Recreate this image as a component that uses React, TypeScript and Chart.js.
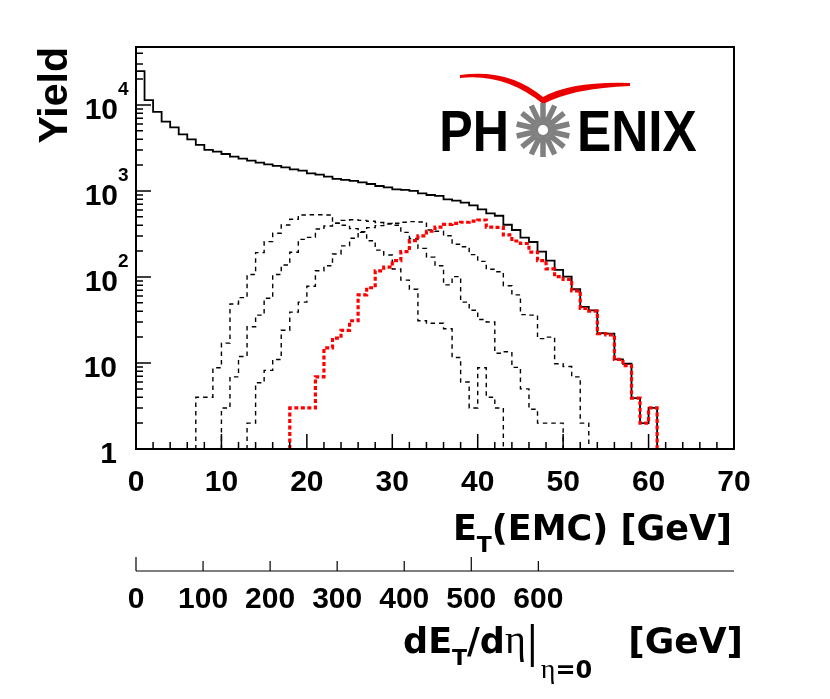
import { useEffect, useRef } from 'react'
import { Chart, registerables } from 'chart.js'

Chart.register(...registerables)

const FONT = '"Liberation Sans", Arial, Helvetica, sans-serif'
const TITLE_FONT = '"DejaVu Sans", "Liberation Sans", sans-serif'
const GREEK_FONT = '"Liberation Serif", "DejaVu Serif", serif'

// histogram contents, one value per 1 GeV bin, starting at *_START
const TOTAL_START = 0
const TOTAL = [
  24800, 11400, 8300, 6400, 5500, 4560, 3990, 3430, 3000, 2870,
  2690, 2510, 2375, 2250, 2135, 2040, 1953, 1885, 1786, 1720,
  1605, 1548, 1467, 1380, 1343, 1307, 1262, 1206, 1143, 1103,
  1045, 1028, 1000, 940, 898, 875, 800, 771, 731, 680,
  610, 550, 515, 405, 352, 287, 255, 197, 155, 121,
  101, 72, 45, 41, 22.3, 21.9, 11, 9.8, 3.9, 2, 3,
]

const CLASS_A_START = 7
const CLASS_A = [
  4, 4, 8.8, 17, 48.5, 57.5, 107, 192, 258, 322,
  402, 469, 526, 530, 530, 526, 421, 400, 365, 330,
  264, 205, 180, 124, 92, 72, 31, 29, 29, 25,
  11.6, 6, 3, 8.8, 4, 3,
]

const CLASS_B_START = 10
const CLASS_B = [
  3, 6.9, 11.9, 26.4, 36, 56.5, 107, 138, 194, 274,
  289, 361, 392, 421, 455, 462, 455, 445, 430, 420,
  400, 330, 280, 215, 170, 135, 81, 101, 51, 41,
  32, 30, 13, 13.5, 8.9, 5, 2.9, 2, 2, 2,
]

const CLASS_C_START = 13
const CLASS_C = [
  2, 5.9, 8.2, 11, 24, 39, 51, 78, 118, 135,
  185, 230, 282, 335, 375, 395, 413, 421, 433, 440,
  435, 352, 340, 302, 240, 225, 182, 152, 123, 115,
  79, 62, 36.5, 36, 19.2, 20, 9.8, 9.1, 6.9, 2,
]

const CENTRAL_START = 18
const CENTRAL = [
  3, 3, 3, 6.9, 15, 19.5, 24, 31, 62, 75,
  118, 130, 155, 197, 265, 300, 340, 380, 410, 421,
  433, 445, 460, 380, 378, 308, 262, 245, 195, 155,
  124, 101, 94, 69, 43, 40, 22, 21.2, 11, 9.3,
  3.9, 2, 3,
]

const X_TICK_LABELS = [0, 10, 20, 30, 40, 50, 60, 70]
const Y_TICK_VALUES = [1, 10, 100, 1000, 10000]
const SEC_TICK_LABELS = [0, 100, 200, 300, 400, 500, 600]
const SEC_PER_GEV = 12.74 // dEt/deta per GeV of Et(EMC)

const X_MAX = 70
const Y_MAX = 47200
const FLOOR = 0.5 // below the log axis minimum, so the edges drop out of the frame

// stepped 'after': each point's value is drawn over the bin that ends at its x
function stepPoints(start: number, values: number[]) {
  const pts = [{ x: start, y: FLOOR }]
  values.forEach((v, i) => pts.push({ x: start + i + 1, y: v }))
  pts.push({ x: start + values.length + 1, y: FLOOR })
  return pts
}

type Part = { t?: string; font?: string; dy?: number; gap?: number; bar?: boolean }

function partWidth(ctx: CanvasRenderingContext2D, p: Part) {
  if (p.gap) return p.gap
  if (p.bar) return 3
  ctx.font = p.font || ''
  return ctx.measureText(p.t || '').width
}

function drawRich(ctx: CanvasRenderingContext2D, parts: Part[], right: number, baseline: number) {
  let total = 0
  for (const p of parts) total += partWidth(ctx, p)
  let x = right - total
  ctx.textAlign = 'left'
  ctx.textBaseline = 'alphabetic'
  for (const p of parts) {
    const w = partWidth(ctx, p)
    if (p.bar) {
      ctx.fillRect(x, baseline - 29, 3, 43)
    } else if (p.t) {
      ctx.font = p.font || ''
      ctx.fillText(p.t, x, baseline + (p.dy || 0))
    }
    x += w
  }
}

const rootAxes = {
  id: 'rootAxes',
  afterDraw(chart: any) {
    const { ctx, chartArea: a } = chart
    const xs = chart.scales.x
    const ys = chart.scales.y
    const x2 = chart.scales.x2
    ctx.save()
    ctx.strokeStyle = '#000'
    ctx.fillStyle = '#000'

    // frame
    ctx.lineWidth = 2
    ctx.strokeRect(a.left, a.top, a.right - a.left, a.bottom - a.top)

    // inward ticks
    ctx.lineWidth = 1.5
    ctx.beginPath()
    for (let v = 0; v <= X_MAX; v += 2) {
      const px = xs.getPixelForValue(v)
      const len = v % 10 === 0 ? 15 : 7
      ctx.moveTo(px, a.bottom)
      ctx.lineTo(px, a.bottom - len)
    }
    for (let d = 1; d <= 10000; d *= 10) {
      for (let m = 1; m <= 9; m++) {
        const v = d * m
        if (v > Y_MAX) break
        const py = ys.getPixelForValue(v)
        const len = m === 1 ? 15 : 7
        ctx.moveTo(a.left, py)
        ctx.lineTo(a.left + len, py)
      }
    }
    ctx.stroke()

    // x labels
    ctx.font = `bold 30px ${FONT}`
    ctx.textAlign = 'center'
    ctx.textBaseline = 'alphabetic'
    X_TICK_LABELS.forEach((v) => {
      ctx.fillText(String(v), xs.getPixelForValue(v), a.bottom + 42)
    })

    // y labels
    Y_TICK_VALUES.forEach((v) => {
      const py = ys.getPixelForValue(v)
      const exp = Math.round(Math.log10(v))
      ctx.font = `bold 30px ${FONT}`
      ctx.textAlign = 'right'
      if (exp <= 1) {
        ctx.fillText(String(v), 117, py + 14)
      } else {
        ctx.fillText('10', 118, py + 14)
        ctx.font = `bold 19px ${FONT}`
        ctx.textAlign = 'left'
        ctx.fillText(String(exp), 118, py - 10)
      }
    })

    // y title
    ctx.save()
    ctx.translate(67, a.top)
    ctx.rotate(-Math.PI / 2)
    ctx.font = `bold 41px ${FONT}`
    ctx.textAlign = 'right'
    ctx.fillText('Yield', 0, 0)
    ctx.restore()

    // x title
    const big = `bold 35px ${TITLE_FONT}`
    const sub = `bold 22px ${TITLE_FONT}`
    drawRich(ctx, [
      { t: 'E', font: big },
      { t: 'T', font: sub, dy: 12 },
      { t: '(EMC) [GeV]', font: big },
    ], 732, 540)

    // secondary dEt/deta axis
    const lineY = 571
    ctx.lineWidth = 1.2
    ctx.beginPath()
    ctx.moveTo(x2.getPixelForValue(0), lineY)
    ctx.lineTo(a.right, lineY)
    SEC_TICK_LABELS.forEach((v) => {
      const px = x2.getPixelForValue(v)
      const len = v % 500 === 0 ? 14 : 10
      ctx.moveTo(px, lineY)
      ctx.lineTo(px, lineY - len)
    })
    ctx.stroke()
    ctx.font = `bold 30px ${FONT}`
    ctx.textAlign = 'center'
    SEC_TICK_LABELS.forEach((v) => {
      ctx.fillText(String(v), x2.getPixelForValue(v), 608)
    })
    const big2 = `bold 35px ${TITLE_FONT}`
    drawRich(ctx, [
      { t: 'dE', font: big2 },
      { t: 'T', font: sub, dy: 12 },
      { t: '/d', font: big2 },
      { t: '\u03b7', font: `40px ${GREEK_FONT}` },
      { gap: 5 },
      { bar: true },
      { gap: 7 },
      { t: '\u03b7', font: `28px ${GREEK_FONT}`, dy: 25 },
      { t: '=0', font: `bold 24px ${TITLE_FONT}`, dy: 25 },
      { gap: 36 },
      { t: '[GeV]', font: `bold 36px ${TITLE_FONT}` },
    ], 743, 653)

    ctx.restore()
  },
}

const phenixLogo = {
  id: 'phenixLogo',
  afterDraw(chart: any) {
    const { ctx } = chart
    ctx.save()
    // red swoosh
    ctx.fillStyle = 'rgb(235,0,0)'
    ctx.beginPath()
    ctx.moveTo(460, 75)
    ctx.quadraticCurveTo(508, 68, 543, 97)
    ctx.quadraticCurveTo(572, 81, 630, 83)
    ctx.lineTo(630, 86)
    ctx.quadraticCurveTo(574, 88, 543, 104)
    ctx.quadraticCurveTo(505, 73, 460, 78)
    ctx.closePath()
    ctx.fill()

    // letters
    ctx.fillStyle = '#000'
    ctx.font = `bold 57px ${FONT}`
    ctx.textBaseline = 'alphabetic'
    ctx.save()
    ctx.translate(509, 151)
    ctx.scale(0.88, 1)
    ctx.textAlign = 'right'
    ctx.fillText('PH', 0, 0)
    ctx.restore()
    ctx.save()
    ctx.translate(577, 151)
    ctx.scale(0.9, 1)
    ctx.textAlign = 'left'
    ctx.fillText('ENIX', 0, 0)
    ctx.restore()

    // grey sunburst
    const cx = 543
    const cy = 130
    ctx.strokeStyle = 'rgb(128,128,128)'
    ctx.lineWidth = 5.5
    ctx.lineCap = 'butt'
    ctx.beginPath()
    for (let i = 0; i < 14; i++) {
      const ang = (i * Math.PI * 2) / 14 - Math.PI / 2
      ctx.moveTo(cx + Math.cos(ang) * 8, cy + Math.sin(ang) * 8)
      ctx.lineTo(cx + Math.cos(ang) * 27, cy + Math.sin(ang) * 27)
    }
    ctx.stroke()
    ctx.fillStyle = 'rgb(128,128,128)'
    ctx.beginPath()
    ctx.arc(cx, cy, 8.5, 0, Math.PI * 2)
    ctx.fill()
    ctx.fillStyle = '#fff'
    ctx.beginPath()
    ctx.arc(cx, cy, 5, 0, Math.PI * 2)
    ctx.fill()
    ctx.restore()
  },
}

export default function App() {
  const canvasRef = useRef<HTMLCanvasElement>(null)
  const chartRef = useRef<Chart | null>(null)

  useEffect(() => {
    if (!canvasRef.current) return
    if (chartRef.current) chartRef.current.destroy()
    const ctx = canvasRef.current.getContext('2d')
    if (!ctx) return

    const dashed = {
      borderColor: '#000',
      borderWidth: 1.4,
      borderDash: [4.5, 4],
      order: 2,
    }

    chartRef.current = new Chart(ctx, {
      type: 'line',
      data: {
        datasets: [
          {
            label: 'central',
            data: stepPoints(CENTRAL_START, CENTRAL),
            borderColor: 'rgb(255,0,0)',
            borderWidth: 3.2,
            borderDash: [4, 2.5],
            order: 0,
          },
          {
            label: 'all',
            data: stepPoints(TOTAL_START, TOTAL),
            borderColor: '#000',
            borderWidth: 1.8,
            order: 1,
          },
          { label: 'A', data: stepPoints(CLASS_A_START, CLASS_A), ...dashed },
          { label: 'B', data: stepPoints(CLASS_B_START, CLASS_B), ...dashed },
          { label: 'C', data: stepPoints(CLASS_C_START, CLASS_C), ...dashed },
        ] as any,
      },
      options: {
        animation: false,
        responsive: false,
        maintainAspectRatio: false,
        layout: { padding: { left: 136, top: 47, right: 96, bottom: 250 } },
        elements: {
          point: { radius: 0 },
          line: { stepped: 'after', tension: 0, fill: false, borderJoinStyle: 'miter' },
        },
        plugins: {
          legend: { display: false },
          tooltip: { enabled: false },
        },
        scales: {
          x: { type: 'linear', min: 0, max: X_MAX, display: false },
          x2: { type: 'linear', axis: 'x', min: 0, max: X_MAX * SEC_PER_GEV, display: false },
          y: { type: 'logarithmic', min: 1, max: Y_MAX, display: false },
        },
      },
      plugins: [rootAxes, phenixLogo],
    })

    return () => {
      if (chartRef.current) {
        chartRef.current.destroy()
        chartRef.current = null
      }
    }
  }, [])

  return (
    <div style={{ position: 'absolute', left: 0, top: 0, width: 830, height: 699, background: '#fff' }}>
      <canvas ref={canvasRef} width={830} height={699} style={{ display: 'block', width: 830, height: 699 }} />
    </div>
  )
}
